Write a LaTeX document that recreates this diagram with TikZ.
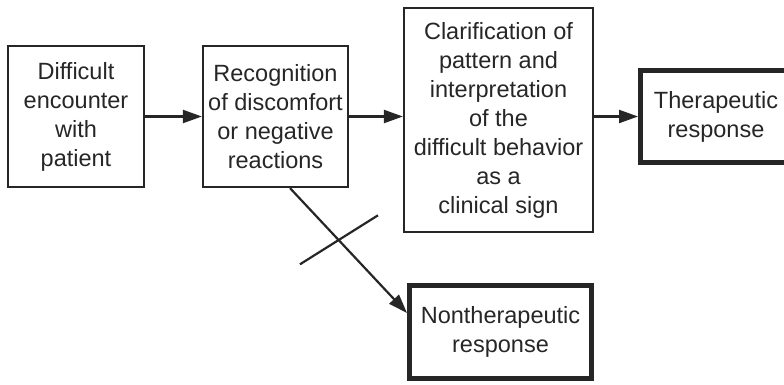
\documentclass[tikz,border=0pt]{standalone}
\usepackage{fontspec}
\setmainfont{Liberation Sans}
\usetikzlibrary{arrows.meta}
\begin{document}
\begin{tikzpicture}[x=1pt,y=-1pt,
  thinbox/.style={draw=black!85,line width=2.2pt,align=center,inner sep=0pt,
    font=\fontsize{23.5}{29}\selectfont,text=black!85},
  thickbox/.style={thinbox,line width=5pt},
  arr/.style={draw=black!85,line width=2.2pt,-{Triangle[length=19pt,width=13pt]}},
  crossline/.style={draw=black!85,line width=2.2pt}]
\path[use as bounding box,clip] (0,0) rectangle (784,384);
\node[thinbox,minimum width=136pt,minimum height=141pt] (b1) at (76,116.5)
  {Difficult\\encounter\\with\\patient};
\node[thinbox,minimum width=145pt,minimum height=141pt] (b2) at (275.5,116.5)
  {Recognition\\of discomfort\\or negative\\reactions};
\node[thinbox,minimum width=189pt,minimum height=224pt] (b3) at (498.5,120)
  {Clarification of\\pattern and\\interpretation\\of the\\difficult behavior\\as a\\clinical sign};
\node[thickbox,minimum width=151pt,minimum height=92pt] (b4) at (716,116.5)
  {Therapeutic\\response};
\node[thickbox,minimum width=182pt,minimum height=93pt] (b5) at (500.5,332)
  {Nontherapeutic\\response};
\draw[arr] (b1.east) -- (b1.east -| b2.west);
\draw[arr] (b2.east) -- (b2.east -| b3.west);
\draw[arr] (b4.west -| b3.east) -- (b4.west);
\draw[arr] ([xshift=14.5pt]b2.south) -- coordinate[pos=0.41] (x) ([yshift=19pt]b5.west);
\draw[crossline] ([xshift=-38pt,yshift=-25pt]x) -- ([xshift=40pt,yshift=24pt]x);
\end{tikzpicture}
\end{document}
